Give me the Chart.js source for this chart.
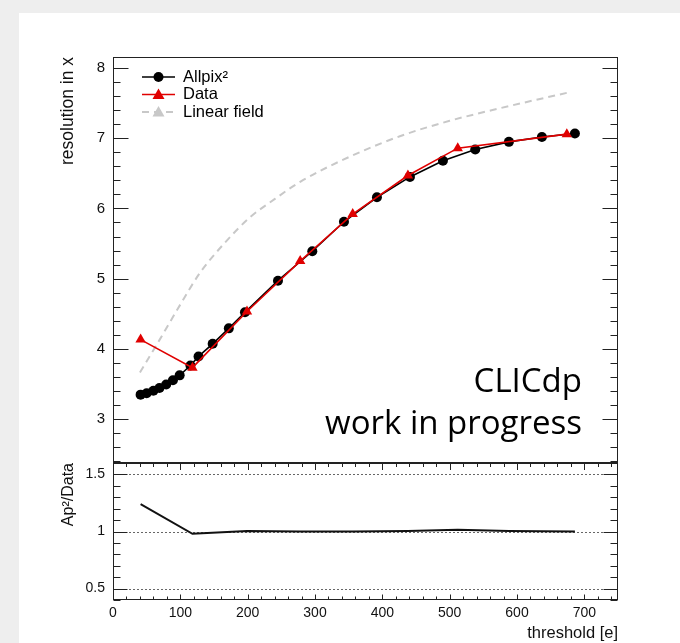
<!DOCTYPE html>
<html>
<head>
<meta charset="utf-8">
<script src="https://cdn.jsdelivr.net/npm/chart.js@4/dist/chart.umd.min.js"></script>
<style>
    html, body { margin: 0; padding: 0; background: #eeeeee; }
    #wrap { position: absolute; left: 19px; top: 13px; width: 661px; height: 630px; background: #ffffff; }
    canvas { display: block; }
</style>
</head>
<body>
<div id="wrap"><canvas id="resChart" width="661" height="630"></canvas></div>
<script>
// Allpix^2 simulation (black circles)
let allpixX = [41, 50, 60, 69, 79, 89, 99, 115, 127, 148, 172, 196, 245, 296, 343, 392, 441, 490, 538, 588, 637, 686];
let allpixY = [3.345, 3.365, 3.40, 3.44, 3.49, 3.55, 3.62, 3.76, 3.89, 4.07, 4.29, 4.52, 4.97, 5.39, 5.81, 6.16, 6.45, 6.68, 6.84, 6.95, 7.02, 7.07];

// Test beam data (red triangles)
let dataX = [41, 118, 199, 278, 356, 438, 512, 674];
let dataY = [4.13, 3.73, 4.53, 5.25, 5.92, 6.47, 6.86, 7.06];

// Linear field simulation (grey dashed)
let linearX = [40, 70, 100, 129, 166, 203, 241, 278, 352, 426, 500, 575, 679];
let linearY = [3.66, 4.14, 4.63, 5.08, 5.51, 5.87, 6.14, 6.38, 6.74, 7.03, 7.25, 7.43, 7.66];

// Ratio panel
let ratioX = [41, 118, 199, 278, 356, 438, 512, 588, 686];
let ratioY = [1.24, 0.98, 1.005, 1.0, 1.0, 1.005, 1.015, 1.005, 1.0];

// Tick labels
let xTicks = [0, 100, 200, 300, 400, 500, 600, 700];
let yTicks = [3, 4, 5, 6, 7, 8];
let ratioTicks = [0.5, 1, 1.5];

const rootFont = "'Liberation Sans', Arial, Helvetica, sans-serif";

function toPoints(xs, ys) {
    return xs.map((x, i) => ({ x: x, y: ys[i] }));
}

// Draw ROOT style inward ticks along a vertical edge
function drawYTicks(ctx, scale, edgeX, dir, values, isMajor, majorLen, minorLen) {
    values.forEach(v => {
        let py = Math.round(scale.getPixelForValue(v)) + 0.5;
        let len = isMajor(v) ? majorLen : minorLen;
        ctx.beginPath();
        ctx.moveTo(edgeX, py);
        ctx.lineTo(edgeX + dir * len, py);
        ctx.stroke();
    });
}

function drawXTicks(ctx, scale, edgeY, dir, values, majorLen, minorLen) {
    values.forEach(v => {
        let px = Math.round(scale.getPixelForValue(v)) + 0.5;
        let len = v % 100 === 0 ? majorLen : minorLen;
        ctx.beginPath();
        ctx.moveTo(px, edgeY);
        ctx.lineTo(px, edgeY + dir * len);
        ctx.stroke();
    });
}

let rootFrame = {
    id: 'rootFrame',
    beforeDatasetsDraw(chart) {
        const { ctx, scales: { x, y2 } } = chart;
        ctx.save();
        ctx.strokeStyle = '#666';
        ctx.lineWidth = 1;
        ctx.setLineDash([2, 2]);
        ratioTicks.forEach(v => {
            let py = Math.round(y2.getPixelForValue(v)) + 0.5;
            ctx.beginPath();
            ctx.moveTo(x.left, py);
            ctx.lineTo(x.right, py);
            ctx.stroke();
        });
        ctx.restore();
    },
    afterDatasetsDraw(chart) {
        const { ctx, scales: { x, y, y2 } } = chart;
        let L = x.left + 0.5, R = x.right - 0.5;
        let topT = y.top + 0.5, sep = y.bottom, bot = y2.bottom - 0.5;
        ctx.save();
        ctx.strokeStyle = '#222';
        ctx.lineWidth = 1;

        // minor tick positions
        let yMinor = [], rMinor = [], xMinor = [];
        for (let k = 12; k <= 40; k++) yMinor.push(+(k * 0.2).toFixed(1));
        for (let k = 4; k <= 16; k++) rMinor.push(+(k * 0.1).toFixed(1));
        for (let k = 0; k <= 37; k++) xMinor.push(k * 20);

        let intMajor = v => Math.abs(v - Math.round(v)) < 1e-6;
        let halfMajor = v => Math.abs(v * 2 - Math.round(v * 2)) < 1e-6;

        drawYTicks(ctx, y, L, 1, yMinor, intMajor, 15, 7);
        drawYTicks(ctx, y, R, -1, yMinor, intMajor, 15, 7);
        drawYTicks(ctx, y2, L, 1, rMinor, halfMajor, 14, 7);
        drawYTicks(ctx, y2, R, -1, rMinor, halfMajor, 14, 7);
        drawXTicks(ctx, x, bot, -1, xMinor, 5, 3);
        drawXTicks(ctx, x, sep + 1, 1, xMinor, 6, 3);

        // frames
        ctx.strokeRect(L, topT, R - L, bot - topT);
        ctx.lineWidth = 2;
        ctx.beginPath();
        ctx.moveTo(L - 0.5, sep);
        ctx.lineTo(R + 0.5, sep);
        ctx.stroke();

        // legend
        const ds = chart.data.datasets;
        const rows = [ds[0], ds[1], ds[2]];
        const legendX = 123, legendY = 64, rowH = 17.5;
        ctx.font = '16.5px ' + rootFont;
        ctx.textBaseline = 'middle';
        ctx.textAlign = 'left';
        rows.forEach((d, i) => {
            let cy = legendY + i * rowH;
            ctx.save();
            ctx.strokeStyle = d.borderColor;
            ctx.lineWidth = d.borderWidth;
            ctx.setLineDash(d.borderDash || []);
            ctx.beginPath();
            ctx.moveTo(legendX, cy);
            ctx.lineTo(legendX + 33, cy);
            ctx.stroke();
            ctx.restore();
            ctx.fillStyle = d.legendMarkerColor;
            ctx.beginPath();
            if (d.pointStyle === 'circle') {
                ctx.arc(legendX + 16.5, cy, 5, 0, Math.PI * 2);
            } else {
                ctx.moveTo(legendX + 16.5, cy - 6);
                ctx.lineTo(legendX + 22.5, cy + 4.5);
                ctx.lineTo(legendX + 10.5, cy + 4.5);
                ctx.closePath();
            }
            ctx.fill();
            ctx.fillStyle = '#000';
            ctx.fillText(d.label, legendX + 41, cy);
        });

        // CLICdp label
        ctx.font = "33px 'Open Sans', 'Noto Sans', sans-serif";
        ctx.textAlign = 'right';
        ctx.textBaseline = 'alphabetic';
        ctx.fillStyle = '#000';
        ctx.fillText('CLICdp', 563, 379);
        ctx.fillText('work in progress', 563, 421);
        ctx.restore();
    }
};

let resChart = new Chart(document.getElementById('resChart').getContext('2d'), {
    type: 'line',
    data: {
        datasets: [{
            label: 'Allpix\u00b2',
            data: toPoints(allpixX, allpixY),
            borderColor: '#000000',
            backgroundColor: '#000000',
            legendMarkerColor: '#000000',
            borderWidth: 1.6,
            pointStyle: 'circle',
            pointRadius: 5,
            pointBorderWidth: 0,
            yAxisID: 'y',
            order: 1
        }, {
            label: 'Data',
            data: toPoints(dataX, dataY),
            borderColor: '#e00000',
            backgroundColor: '#e00000',
            legendMarkerColor: '#e00000',
            borderWidth: 1.6,
            pointStyle: 'triangle',
            pointRadius: 6,
            pointBorderWidth: 0,
            yAxisID: 'y',
            order: 0
        }, {
            label: 'Linear field',
            data: toPoints(linearX, linearY),
            borderColor: '#c8c8c8',
            backgroundColor: '#c8c8c8',
            legendMarkerColor: '#c8c8c8',
            borderWidth: 2,
            borderDash: [7, 5],
            pointStyle: 'triangle',
            pointRadius: 0,
            cubicInterpolationMode: 'monotone',
            yAxisID: 'y',
            order: 2
        }, {
            label: 'ratio',
            data: toPoints(ratioX, ratioY),
            borderColor: '#111111',
            borderWidth: 2,
            pointRadius: 0,
            yAxisID: 'y2',
            order: 3
        }]
    },
    options: {
        responsive: false,
        animation: false,
        devicePixelRatio: 1,
        layout: { padding: { top: 44, right: 62, left: 0, bottom: 0 } },
        plugins: { legend: { display: false }, tooltip: { enabled: false } },
        scales: {
            x: {
                type: 'linear',
                min: 0,
                max: 750,
                grid: { display: false, drawTicks: false },
                border: { display: false },
                afterBuildTicks: s => { s.ticks = xTicks.map(v => ({ value: v })); },
                afterFit: s => { s.height = 43; },
                ticks: { color: '#111', font: { family: rootFont, size: 14 }, padding: 5, maxRotation: 0 },
                title: { display: true, text: 'threshold [e]', align: 'end', color: '#111',
                         font: { family: rootFont, size: 16.5 }, padding: { top: 0, bottom: 0 } }
            },
            y: {
                type: 'linear',
                position: 'left',
                stack: 'res',
                stackWeight: 406,
                weight: 2,
                min: 2.37,
                max: 8.16,
                grid: { display: false, drawTicks: false },
                border: { display: false },
                afterBuildTicks: s => { s.ticks = yTicks.map(v => ({ value: v })); },
                afterFit: s => { s.width = 94; },
                ticks: { color: '#111', font: { family: rootFont, size: 15 }, padding: 8 },
                title: { display: true, text: 'resolution in x', align: 'end', color: '#111',
                         font: { family: rootFont, size: 17.5 }, padding: { top: 39, bottom: 0 } }
            },
            y2: {
                type: 'linear',
                position: 'left',
                stack: 'res',
                stackWeight: 137,
                weight: 1,
                min: 0.4,
                max: 1.6,
                grid: { display: false, drawTicks: false },
                border: { display: false },
                afterBuildTicks: s => { s.ticks = ratioTicks.map(v => ({ value: v })); },
                afterFit: s => { s.width = 94; },
                ticks: { color: '#111', font: { family: rootFont, size: 14 }, padding: 8, callback: v => String(v) },
                title: { display: true, text: 'Ap\u00b2/Data', align: 'end', color: '#111',
                         font: { family: rootFont, size: 16 }, padding: { top: 40, bottom: 0 } }
            }
        }
    },
    plugins: [rootFrame]
});
</script>
</body>
</html>
